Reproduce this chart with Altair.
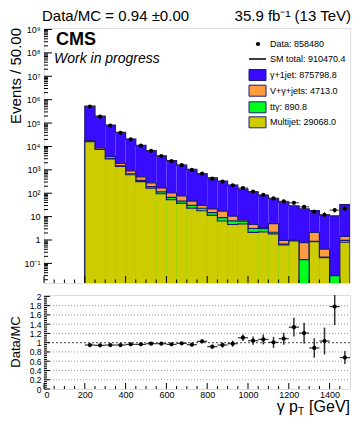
import altair as alt
import pandas as pd

# ---------------- data ----------------
bin_lo = [200, 250, 300, 350, 400, 450, 500, 550, 600, 650, 700, 750, 800,
          850, 900, 950, 1000, 1050, 1100, 1150, 1200, 1250, 1300, 1350, 1400, 1450]
bin_hi = [250, 300, 350, 400, 450, 500, 550, 600, 650, 700, 750, 800, 850,
          900, 950, 1000, 1050, 1100, 1150, 1200, 1250, 1300, 1350, 1400, 1450, 1500]
bin_mid = [225, 275, 325, 375, 425, 475, 525, 575, 625, 675, 725, 775, 825,
           875, 925, 975, 1025, 1075, 1125, 1175, 1225, 1275, 1325, 1375, 1425, 1475]

data_counts = [505000, 188000, 78200, 38100, 20100, 10800, 6460, 3860, 2380, 1580,
               995, 695, 416, 311, 217, 167, 118, 85, 60, 45, 39, 26, 16, 12, 19, 22]
data_err = [711, 434, 280, 195, 142, 104, 80, 62, 49, 40,
            32, 26, 20, 18, 15, 13, 11, 9, 8, 7, 6, 5, 4, 3.5, 4.4, 4.7]

gamma_jet = [513400, 190700, 78630, 38220, 19940, 10700, 6322, 3774, 2367, 1526,
             994, 645, 434, 310, 212, 144, 108, 76, 54.6, 40.4, 28.2, 20.7, 16.0, 11.2, 10.7, 31.0]
vgamma = [1900, 1100, 650, 400, 240, 150, 85, 55, 36, 30,
          16, 7, 6.5, 8.2, 3.8, 0.9, 1.5, 0.4, 2.9, 0.29, 0, 0.63, 1.25, 0.22, 0, 0.46]
ttgamma = [300, 200, 120, 80, 55, 38, 27, 19, 13, 9,
           7, 5, 3.5, 2.5, 2, 1.5, 1, 0.8, 0.3, 0.05, 0.05, 0.144, 0.02, 0.01, 0.03, 0.17]
multijet = [16000, 7400, 2900, 1400, 616, 314, 166, 95, 53, 37,
            23, 17.8, 11.3, 6.5, 4.6, 4.85, 2.1, 2.24, 1.84, 0.62, 0.91, 0, 0.85, 0.175, 0, 0.8]

ratio = [0.95, 0.943, 0.95, 0.95, 0.964, 0.964, 0.979, 0.979, 0.964, 0.986,
         0.957, 1.029, 0.914, 0.95, 0.979, 1.107, 1.043, 1.071, 1.007, 1.086,
         1.336, 1.207, 0.886, 1.036, 1.78, 0.679]
ratio_err = [0.003, 0.003, 0.004, 0.005, 0.007, 0.01, 0.012, 0.016, 0.02, 0.025,
             0.03, 0.04, 0.045, 0.055, 0.065, 0.07, 0.09, 0.107, 0.12, 0.13,
             0.2, 0.225, 0.21, 0.29, 0.4, 0.14]

legend_labels = ["Data: 858480", "SM total: 910470.4", "\u03b3+1jet: 875798.8",
                 "V+\u03b3+jets: 4713.0", "tt\u03b3: 890.8", "Multijet: 29068.0"]
legend_colors = [None, None, "#3a0cff", "#ff9c40", "#00ff1a", "#cccc00"]

y_major = [0.1, 1, 10, 1e2, 1e3, 1e4, 1e5, 1e6, 1e7, 1e8, 1e9]
x_major = [0, 200, 400, 600, 800, 1000, 1200, 1400]
ratio_major = [0, 0.2, 0.4, 0.6, 0.8, 1.0, 1.2, 1.4, 1.6, 1.8, 2.0]

# ---------------- styling ----------------
W, H1, H2 = 306, 255, 94
FONT = "Liberation Sans"
NAVY = "#1c1c78"
C_GAMMA, C_V, C_TT, C_MJ = legend_colors[2], legend_colors[3], legend_colors[4], legend_colors[5]
FLOOR = 1e-4

df = pd.DataFrame({"lo": bin_lo, "hi": bin_hi, "mid": bin_mid,
                   "data": data_counts, "derr": data_err,
                   "mj": multijet, "tt": ttgamma, "v": vgamma, "g": gamma_jet,
                   "ratio": ratio, "rerr": ratio_err})
df["c_mj"] = df["mj"]
df["c_tt"] = df["c_mj"] + df["tt"]
df["c_v"] = df["c_tt"] + df["v"]
df["c_tot"] = df["c_v"] + df["g"]
df["dlo"] = df["data"] - df["derr"]
df["dhi"] = df["data"] + df["derr"]
df["rlo"] = df["ratio"] - df["rerr"]
df["rhi"] = df["ratio"] + df["rerr"]

xs = alt.Scale(domain=[0, 1500], nice=False, zero=False)
ys = alt.Scale(type="log", domain=[0.0145, 1.16e9], nice=False)
rs = alt.Scale(domain=[0, 2.03], nice=False, zero=False)

sup = "['\u2070','\u00b9','\u00b2','\u00b3','\u2074','\u2075','\u2076','\u2077','\u2078','\u2079']"
y_label_expr = ("datum.value < 0.5 ? '10\u207b\u00b9' : datum.value < 5 ? '1' : "
                "datum.value < 50 ? '10' : '10' + " + sup +
                "[round(log(datum.value)/LN10)]")

x_axis_top = alt.Axis(labels=False, ticks=False, domain=False, grid=False, title=None)
y_axis_top = alt.Axis(values=y_major, labelExpr=y_label_expr, ticks=False, domain=False,
                      grid=False, title=None, labelFontSize=9, labelPadding=4,
                      labelFont=FONT, labelColor="black")
X = lambda f: alt.X(f, scale=xs, axis=x_axis_top)
Y = lambda f: alt.Y(f, scale=ys, axis=y_axis_top)


def fill(col, color):
    return alt.Chart(df).mark_rect(color=color, clip=True).encode(
        x=X("lo:Q"), x2="hi:Q", y=Y(f"{col}:Q"), y2=alt.value(H1))


def outline(col):
    pts = [(bin_lo[0], FLOOR)]
    for lo, hi, v in zip(df["lo"], df["hi"], df[col]):
        v = v if v > 0 else FLOOR
        pts += [(lo, v), (hi, v)]
    pts.append((bin_hi[-1], FLOOR))
    d = pd.DataFrame(pts, columns=["x", "y"])
    d["i"] = range(len(d))
    return alt.Chart(d).mark_line(color=NAVY, strokeWidth=1.2, clip=True).encode(
        x=X("x:Q"), y=Y("y:Q"), order="i:Q")


one = pd.DataFrame({"a": [0]})
layers = []
for col, color in [("c_tot", C_GAMMA), ("c_v", C_V), ("c_tt", C_TT), ("c_mj", C_MJ)]:
    layers.append(fill(col, color))
    layers.append(outline(col))

# inward ticks (upper panel)
ytick_major = pd.DataFrame({"y": y_major})
ytick_minor = pd.DataFrame({"y": [m * 10.0 ** k for k in range(-2, 9) for m in range(2, 10)
                                  if 0.0145 < m * 10.0 ** k < 1.16e9]})
xtick_major = pd.DataFrame({"x": x_major})
xtick_minor = pd.DataFrame({"x": [v for v in range(50, 1500, 50) if v % 200]})
layers += [
    alt.Chart(ytick_major).mark_rule(color="black", strokeWidth=1).encode(
        y=Y("y:Q"), x=alt.value(0), x2=alt.value(8)),
    alt.Chart(ytick_minor).mark_rule(color="black", strokeWidth=1).encode(
        y=Y("y:Q"), x=alt.value(0), x2=alt.value(4)),
    alt.Chart(xtick_major).mark_rule(color="black", strokeWidth=1).encode(
        x=X("x:Q"), y=alt.value(H1), y2=alt.value(H1 - 7)),
    alt.Chart(xtick_minor).mark_rule(color="black", strokeWidth=1).encode(
        x=X("x:Q"), y=alt.value(H1), y2=alt.value(H1 - 3.5)),
]

# data points
layers += [
    alt.Chart(df).mark_rule(color="#333333", strokeWidth=1).encode(
        x=X("lo:Q"), x2="hi:Q", y=Y("data:Q")),
    alt.Chart(df).mark_rule(color="#333333", strokeWidth=1).encode(
        x=X("mid:Q"), y=Y("dlo:Q"), y2="dhi:Q"),
    alt.Chart(df).mark_circle(color="black", size=18, opacity=1).encode(
        x=X("mid:Q"), y=Y("data:Q")),
]


def txt(text, x, y, size, **kw):
    return alt.Chart(one).mark_text(text=text, font=FONT, fontSize=size, color="black", **kw).encode(
        x=alt.value(x), y=alt.value(y))


layers += [
    txt("Data/MC = 0.94 \u00b10.00", -2, -7, 15, align="left", baseline="alphabetic"),
    txt("35.9 fb\u207b\u00b9 (13 TeV)", W + 1, -7, 15, align="right", baseline="alphabetic"),
    txt("CMS", 12, 17, 18, align="left", baseline="alphabetic", fontWeight="bold"),
    txt("Work in progress", 10, 35, 14, align="left", baseline="alphabetic", fontStyle="italic"),
    txt("Events / 50.00", -28, 0, 15, align="right", baseline="middle", angle=270),
]

# legend
rows_y = [16, 31, 47, 62.7, 79.3, 94.3]
LX = W - 101
for lab, colr, yy in zip(legend_labels, legend_colors, rows_y):
    if lab.startswith("Data"):
        layers.append(alt.Chart(one).mark_circle(color="black", size=18, opacity=1).encode(
            x=alt.value(LX + 9), y=alt.value(yy)))
    elif lab.startswith("SM"):
        layers.append(alt.Chart(one).mark_rule(color="black", strokeWidth=1.5).encode(
            x=alt.value(LX), x2=alt.value(LX + 17), y=alt.value(yy)))
    else:
        layers.append(alt.Chart(one).mark_rect(fill=colr, stroke=NAVY, strokeWidth=1).encode(
            x=alt.value(LX), x2=alt.value(LX + 17), y=alt.value(yy - 5.5), y2=alt.value(yy + 5.5)))
    layers.append(txt(lab, LX + 21, yy, 9, align="left", baseline="middle"))

top = alt.layer(*layers).properties(width=W, height=H1)

# ---------------- ratio panel ----------------
x_axis_bot = alt.Axis(values=x_major, format="d", ticks=False, domain=False, grid=False,
                      title=None, labelFontSize=9, labelPadding=1, labelFont=FONT,
                      labelColor="black")
r_axis = alt.Axis(values=ratio_major, format="~g", ticks=False, domain=False, grid=False,
                  title=None, labelFontSize=8.5, labelPadding=3, labelFont=FONT,
                  labelColor="black")
XB = lambda f: alt.X(f, scale=xs, axis=x_axis_bot)
YB = lambda f: alt.Y(f, scale=rs, axis=r_axis)

grid = pd.DataFrame({"y": [v for v in ratio_major if 0 < v < 2 and v != 1.0]})
unity = pd.DataFrame({"y": [1.0]})
rtick_minor = pd.DataFrame({"y": [i * 0.04 for i in range(1, 51) if i % 5]})
blayers = [
    alt.Chart(grid).mark_rule(color="#999999", strokeWidth=1, strokeDash=[1, 2]).encode(
        y=YB("y:Q"), x=alt.value(0), x2=alt.value(W)),
    alt.Chart(unity).mark_rule(color="#444444", strokeWidth=1, strokeDash=[2, 2]).encode(
        y=YB("y:Q"), x=alt.value(0), x2=alt.value(W)),
    alt.Chart(pd.DataFrame({"y": ratio_major})).mark_rule(color="black").encode(
        y=YB("y:Q"), x=alt.value(0), x2=alt.value(6)),
    alt.Chart(rtick_minor).mark_rule(color="black").encode(
        y=YB("y:Q"), x=alt.value(0), x2=alt.value(3)),
    alt.Chart(xtick_major).mark_rule(color="black").encode(
        x=XB("x:Q"), y=alt.value(H2), y2=alt.value(H2 - 6)),
    alt.Chart(xtick_minor).mark_rule(color="black").encode(
        x=XB("x:Q"), y=alt.value(H2), y2=alt.value(H2 - 3)),
    alt.Chart(df).mark_rule(color="#333333", strokeWidth=1.5, clip=True).encode(
        x=XB("mid:Q"), y=YB("rlo:Q"), y2="rhi:Q"),
    alt.Chart(df).mark_rule(color="#333333", strokeWidth=1.2).encode(
        x=XB("lo:Q"), x2="hi:Q", y=YB("ratio:Q")),
    alt.Chart(df).mark_circle(color="black", size=18, opacity=1).encode(
        x=XB("mid:Q"), y=YB("ratio:Q")),
    txt("Data/MC", -28, H2 / 2, 13, align="center", baseline="middle", angle=270),
    txt("[GeV]", W, H2 + 23, 16, align="right", baseline="alphabetic"),
    txt("T", W - 46, H2 + 25.5, 10, align="right", baseline="alphabetic"),
    txt("\u03b3 p", W - 52, H2 + 23, 16, align="right", baseline="alphabetic"),
]
bottom = alt.layer(*blayers).properties(width=W, height=H2)

chart = alt.vconcat(top, bottom, spacing=12, bounds="flush").properties(
    padding=0).configure_view(stroke="black", strokeWidth=1.2).configure(background="white")

chart.save("out.html", embed_options={"renderer": "svg", "actions": False})
